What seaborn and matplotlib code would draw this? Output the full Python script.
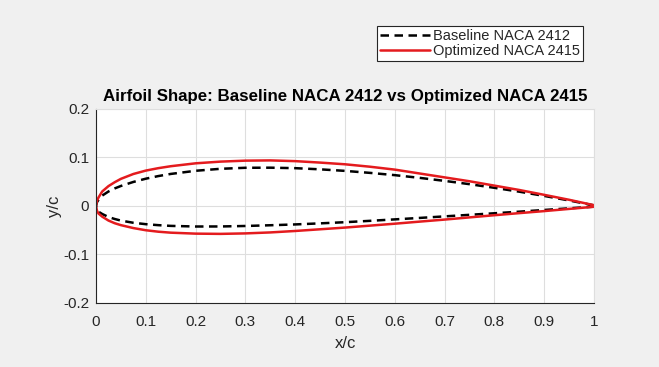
import numpy as np
import pandas as pd
import seaborn as sns
import matplotlib.pyplot as plt

# chord stations (x/c)
x_stations = [0.0, 0.002, 0.005, 0.0125, 0.025, 0.0375, 0.05, 0.075, 0.1, 0.125,
              0.15, 0.2, 0.25, 0.3, 0.35, 0.4, 0.45, 0.5, 0.55, 0.6,
              0.65, 0.7, 0.75, 0.8, 0.85, 0.9, 0.95, 1.0]

# baseline NACA 2412
base_upper = [0.0, 0.0080, 0.0127, 0.0215, 0.0299, 0.0362, 0.0413, 0.0496, 0.0563, 0.0617,
              0.0661, 0.0726, 0.0767, 0.0788, 0.0790, 0.0780, 0.0756, 0.0724, 0.0683, 0.0636,
              0.0580, 0.0518, 0.0450, 0.0375, 0.0295, 0.0208, 0.0114, 0.0013]
base_lower = [0.0, -0.0076, -0.0117, -0.0165, -0.0227, -0.0268, -0.0301, -0.0346, -0.0375, -0.0395,
              -0.0410, -0.0423, -0.0422, -0.0412, -0.0397, -0.0380, -0.0358, -0.0334, -0.0306, -0.0276,
              -0.0246, -0.0214, -0.0182, -0.0150, -0.0117, -0.0082, -0.0048, -0.0013]

# optimized NACA 2415
opt_upper = [0.0, 0.0110, 0.0175, 0.0300, 0.0410, 0.0490, 0.0560, 0.0660, 0.0730, 0.0780,
             0.0820, 0.0880, 0.0915, 0.0935, 0.0940, 0.0925, 0.0895, 0.0860, 0.0810, 0.0750,
             0.0670, 0.0590, 0.0510, 0.0420, 0.0330, 0.0230, 0.0128, 0.0016]
opt_lower = [0.0, -0.0100, -0.0155, -0.0220, -0.0300, -0.0355, -0.0395, -0.0455, -0.0500, -0.0530,
             -0.0550, -0.0570, -0.0575, -0.0565, -0.0545, -0.0515, -0.0480, -0.0445, -0.0405, -0.0365,
             -0.0322, -0.0280, -0.0235, -0.0190, -0.0147, -0.0105, -0.0060, -0.0016]


def closed_outline(xs, upper, lower):
    """trailing edge -> leading edge along upper, then back along lower"""
    x = list(reversed(xs)) + xs[1:]
    y = list(reversed(upper)) + lower[1:]
    return pd.DataFrame({"x": x, "y": y})


base_df = closed_outline(x_stations, base_upper, base_lower)
opt_df = closed_outline(x_stations, opt_upper, opt_lower)

sns.set_style("white")
plt.rcParams["font.family"] = ["Liberation Sans", "DejaVu Sans"]

bg = "#f0f0f0"
fig = plt.figure(figsize=(6.59, 3.67), dpi=100, facecolor=bg)
ax = fig.add_axes([0.1457, 0.1744, 0.7557, 0.5286])
ax.set_facecolor("white")

sns.lineplot(data=base_df, x="x", y="y", sort=False, estimator=None, ax=ax, color="black",
             linestyle=(0, (3.4, 2.2)), linewidth=1.8, label="Baseline NACA 2412")
sns.lineplot(data=opt_df, x="x", y="y", sort=False, estimator=None, ax=ax, color="#e41b1e",
             linewidth=1.8, label="Optimized NACA 2415")

ax.set_xlim(0, 1)
ax.set_ylim(-0.2, 0.2)
ax.set_xticks(np.arange(0, 1.01, 0.1))
ax.set_xticklabels(["0", "0.1", "0.2", "0.3", "0.4", "0.5", "0.6", "0.7", "0.8", "0.9", "1"])
ax.set_yticks([-0.2, -0.1, 0, 0.1, 0.2])
ax.set_yticklabels(["-0.2", "-0.1", "0", "0.1", "0.2"])
ax.grid(True, color="#dedede", linewidth=0.8)
ax.tick_params(direction="in", length=4, colors="#262626", labelsize=11)
ax.tick_params(axis="x", pad=9)
ax.tick_params(axis="y", pad=5)

for side in ["top", "right"]:
    ax.spines[side].set_color("#dedede")
    ax.spines[side].set_linewidth(0.8)
for side in ["left", "bottom"]:
    ax.spines[side].set_color("#262626")
    ax.spines[side].set_linewidth(0.8)

ax.set_xlabel("x/c", fontsize=12, color="#262626", labelpad=5)
ax.set_ylabel("y/c", fontsize=12, color="#262626", labelpad=1)
ax.set_title("Airfoil Shape: Baseline NACA 2412 vs Optimized NACA 2415",
             fontsize=12.2, fontweight="bold", color="black", pad=6)

handles, labels = ax.get_legend_handles_labels()
ax.get_legend().remove()
leg = fig.legend(handles, labels, loc="upper right", bbox_to_anchor=(0.884, 0.93),
                 fontsize=10.5, frameon=True, fancybox=False, edgecolor="#262626",
                 framealpha=1, borderpad=0.2, labelspacing=0.1, handlelength=3.4,
                 handletextpad=0.2, borderaxespad=0)
leg.get_frame().set_linewidth(0.8)

fig.savefig("out.png", dpi=100, facecolor=bg)
